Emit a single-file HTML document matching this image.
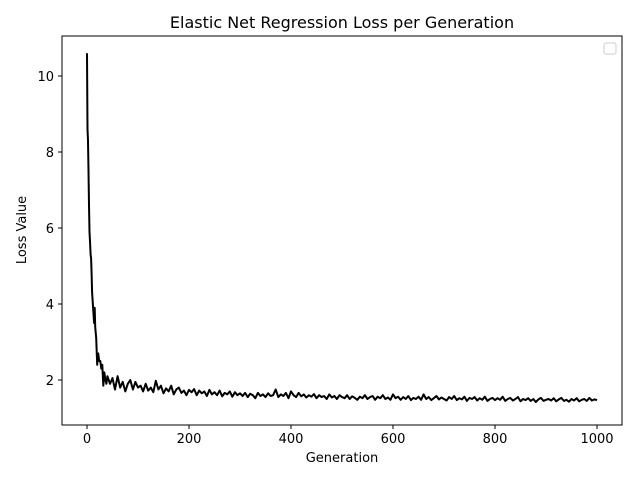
<!DOCTYPE html>
<html><head><meta charset="utf-8"><style>
body{margin:0;background:#fff;}
svg{display:block;font-family:"DejaVu Sans","Liberation Sans",sans-serif;}
</style></head><body>
<svg id="chart" width="640" height="480">
<rect width="640" height="480" fill="#fff"/>
<text x="342" y="28" font-size="16" text-anchor="middle">Elastic Net Regression Loss per Generation</text>
<g id="xt"></g><g id="yt"></g>
<path id="line" fill="none" stroke="#000" stroke-width="2" stroke-linejoin="round"/>
<rect x="62" y="36" width="560" height="389" fill="none" stroke="#000" stroke-width="1"/>
<rect x="604" y="43" width="12" height="11" rx="2" fill="#fff" stroke="#ccc"/>
<text x="342" y="462" font-size="13" text-anchor="middle">Generation</text>
<text transform="translate(26,230) rotate(-90)" font-size="13" text-anchor="middle">Loss Value</text>
</svg>
<script>
const earlyGens=[0,1,2,3,4,5,6,7,8,9,10,12,14,15,16,18,20,22,24,26,28,30,32,34,36,38,40];
const earlyLoss=[10.6,8.6,8.3,7.5,6.6,5.9,5.6,5.3,5.2,4.8,4.3,3.9,3.5,3.9,3.4,3.1,2.4,2.7,2.5,2.5,2.3,2.4,1.85,2.2,2.0,1.9,2.1];
const lateLoss=[1.9,2.05,1.75,2.1,1.8,1.95,1.7,1.9,2.0,1.75,1.95,1.8,
1.85,1.7,1.9,1.72,1.8,1.68,1.98,1.75,1.85,1.65,1.78,1.7,1.85,1.62,1.75,1.8,1.66,1.72,1.6,1.74,
1.68,1.76,1.6,1.72,1.65,1.7,1.58,1.74,1.62,1.68,1.6,1.72,1.57,1.66,1.62,1.7,1.56,1.68,1.6,1.65,
1.58,1.66,1.55,1.64,1.6,1.52,1.66,1.58,1.62,1.55,1.65,1.58,1.6,1.75,1.55,1.62,1.58,1.66,1.52,1.7,
1.6,1.55,1.66,1.57,1.62,1.54,1.6,1.56,1.63,1.52,1.6,1.55,1.58,1.5,1.62,1.54,1.58,1.5,1.6,1.55,
1.52,1.6,1.5,1.57,1.53,1.48,1.56,1.52,1.6,1.5,1.55,1.58,1.48,1.56,1.52,1.6,1.5,1.54,1.48,1.62,
1.52,1.56,1.48,1.55,1.5,1.58,1.47,1.53,1.5,1.56,1.48,1.62,1.5,1.55,1.47,1.52,1.58,1.49,1.54,1.5,
1.46,1.55,1.5,1.58,1.47,1.52,1.49,1.56,1.45,1.53,1.5,1.55,1.46,1.52,1.48,1.56,1.45,1.5,1.53,1.47,
1.52,1.48,1.56,1.45,1.5,1.53,1.46,1.5,1.55,1.44,1.5,1.47,1.52,1.45,1.5,1.42,1.49,1.53,1.45,1.48,
1.5,1.46,1.52,1.44,1.49,1.53,1.45,1.48,1.43,1.5,1.46,1.52,1.44,1.48,1.5,1.45,1.53,1.46,1.49,1.47];
const xTicks=[0,200,400,600,800,1000];
const yTicks=[2,4,6,8,10];
const gens=earlyGens.slice();
for(let g=45;g<=1000;g+=5)gens.push(g);
const loss=earlyLoss.concat(lateLoss);
const X=v=>87+0.51*v, Y=v=>456-38*v;
const NS="http://www.w3.org/2000/svg";
let d="";
for(let i=0;i<gens.length&&i<loss.length;i++)d+=(i?"L":"M")+X(gens[i]).toFixed(1)+","+Y(loss[i]).toFixed(1);
document.getElementById("line").setAttribute("d",d);
const xt=document.getElementById("xt"),yt=document.getElementById("yt");
xTicks.forEach(v=>{
 const l=document.createElementNS(NS,"line");
 l.setAttribute("x1",X(v));l.setAttribute("x2",X(v));l.setAttribute("y1",425);l.setAttribute("y2",429);l.setAttribute("stroke","#000");
 
 
 xt.appendChild(l);
 const t=document.createElementNS(NS,"text");
 t.setAttribute("x",X(v));t.setAttribute("y",443);t.setAttribute("font-size","13");t.setAttribute("text-anchor","middle");t.textContent=v;
 
 
 xt.appendChild(t);
});
yTicks.forEach(v=>{
 const l=document.createElementNS(NS,"line");
 l.setAttribute("x1",58);l.setAttribute("x2",62);l.setAttribute("y1",Y(v));l.setAttribute("y2",Y(v));l.setAttribute("stroke","#000");
 
 
 yt.appendChild(l);
 const t=document.createElementNS(NS,"text");
 t.setAttribute("x",54);t.setAttribute("y",Y(v)+5);t.setAttribute("font-size","13");t.setAttribute("text-anchor","end");t.textContent=v;
 
 
 yt.appendChild(t);
});
</script>
</body></html>
